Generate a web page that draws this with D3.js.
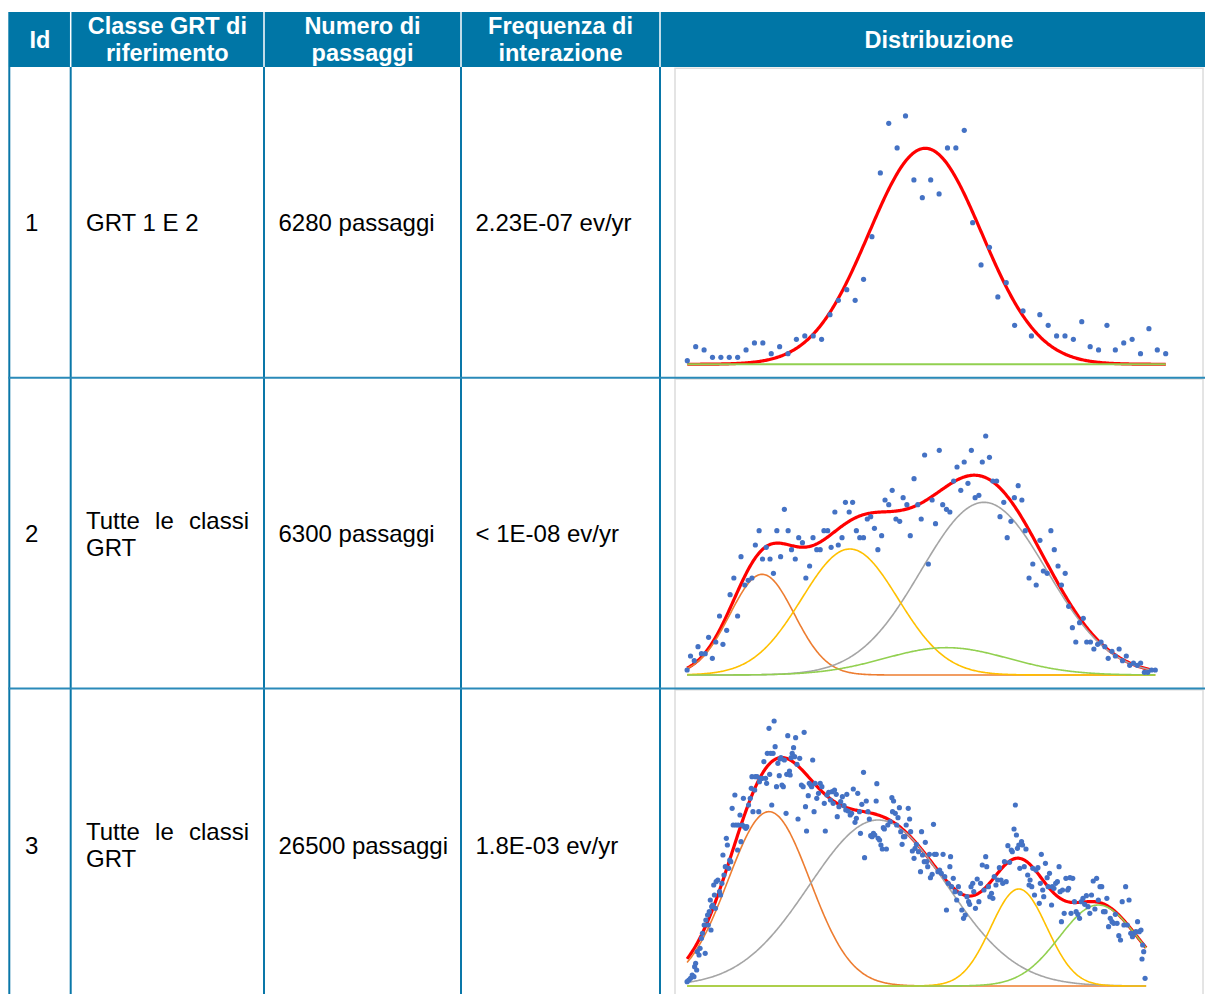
<!DOCTYPE html>
<html><head><meta charset="utf-8">
<script src="https://cdn.jsdelivr.net/npm/d3@7"></script>
<style>
html,body{margin:0;padding:0;background:#fff;}
svg text{font-family:"Liberation Sans",Arial,Helvetica,sans-serif;}
</style>
</head><body>
<svg id="c" width="1205" height="994"></svg>
<script>
// ---------------- DATA ----------------
const headerLabels = [["Id"], ["Classe GRT di", "riferimento"], ["Numero di", "passaggi"], ["Frequenza di", "interazione"], ["Distribuzione"]];
const ids = ["1", "2", "3"];
const classLines = [["GRT 1 E 2"], ["Tutte le classi", "GRT"], ["Tutte le classi", "GRT"]];
const passages = [6280, 6300, 26500];
const frequencies = ["2.23E-07 ev/yr", "< 1E-08 ev/yr", "1.8E-03 ev/yr"];

// Chart 1: one value per bin (bin index 0..57)
const chart1Values = [11,53,43,21,21,21,21,43,64,64,32,53,32,75,85,85,75,149,192,224,192,255,383,574,723,649,745,553,500,553,511,649,649,702,425,298,351,202,245,117,160,85,149,117,85,85,75,128,53,43,117,43,64,75,32,107,43,32];
const chart1FitMean = [28.36], chart1FitSigma = [6.73], chart1FitAmp = [648];

// Chart 2: [x, frequency]
const chart2Points = [[5.0,15],[6.0,57],[7.1,43],[8.2,85],[9.2,64],[10.3,64],[11.3,113],[12.4,50],[13.4,99],[14.5,177],[15.5,92],[16.6,134],[17.6,241],[18.7,291],[19.8,177],[20.8,355],[21.9,270],[22.9,284],[24.0,291],[25.0,390],[26.1,433],[27.1,348],[28.2,383],[29.3,348],[30.3,305],[31.3,433],[32.4,355],[33.5,497],[34.6,433],[35.6,376],[36.7,348],[37.7,412],[38.8,397],[39.8,291],[40.9,327],[41.9,412],[43.0,376],[44.0,376],[45.1,433],[46.2,433],[47.2,383],[48.3,489],[49.3,390],[50.4,412],[51.4,518],[52.5,489],[53.5,518],[54.6,433],[55.6,412],[56.7,412],[57.8,468],[58.8,475],[59.9,440],[60.9,376],[62.0,418],[63.0,525],[64.1,511],[65.1,554],[66.2,468],[67.3,461],[68.3,532],[69.4,511],[70.4,418],[71.5,589],[72.6,511],[73.6,468],[74.6,660],[75.7,333],[76.8,525],[77.8,454],[78.9,674],[79.9,511],[81.0,497],[82.0,489],[83.1,582],[84.1,624],[85.2,554],[86.2,639],[87.3,575],[88.3,674],[89.4,532],[90.5,539],[91.5,639],[92.5,717],[93.6,653],[94.6,582],[95.7,582],[96.7,475],[97.8,518],[98.8,412],[99.9,461],[100.9,532],[102.0,568],[103.1,525],[104.1,433],[105.2,291],[106.3,333],[107.3,270],[108.4,404],[109.4,312],[110.5,305],[111.6,433],[112.6,376],[113.7,327],[114.7,270],[115.8,305],[116.8,206],[117.9,142],[118.9,99],[120.0,157],[121.1,170],[122.1,99],[123.2,99],[124.2,78],[125.3,92],[126.3,99],[127.4,85],[128.4,50],[129.5,71],[130.5,57],[131.6,78],[132.6,43],[133.7,57],[134.7,29],[135.8,36],[136.9,29],[137.9,36],[139.0,8],[140.0,8],[141.1,15],[142.2,15]];
const chart2Means  = [27.0, 92.0, 52.7, 81.0];
const chart2Sigmas = [9.4, 18.4, 14.1, 18.2];
const chart2Amps   = [302, 518, 378, 82];

// Chart 3: [x, frequency]
const chart3Points = [[5.0,13],[5.5,18],[6.0,23],[6.5,33],[7.0,28],[7.2,58],[7.5,68],[7.8,48],[8.0,103],[8.5,93],[8.8,113],[9.2,143],[9.5,158],[10.0,183],[10.3,98],[10.5,198],[11.0,213],[11.2,183],[11.5,223],[11.8,258],[12.0,168],[12.2,238],[12.5,243],[12.8,303],[13.0,273],[13.3,233],[13.5,313],[14.0,318],[14.5,283],[14.8,273],[15.2,308],[15.5,393],[15.8,333],[16.2,358],[16.5,443],[16.8,423],[17.2,353],[17.5,378],[17.8,373],[18.2,533],[18.5,483],[19.0,573],[19.3,483],[19.8,408],[20.0,483],[20.5,513],[20.8,433],[21.2,483],[21.5,563],[21.8,478],[22.2,473],[22.5,478],[23.0,543],[23.5,563],[23.8,593],[24.0,628],[24.3,523],[24.8,588],[25.0,628],[25.5,628],[26.0,523],[26.2,613],[26.5,623],[27.0,623],[27.5,673],[28.0,623],[28.3,608],[28.5,698],[29.0,773],[29.2,635],[29.5,698],[29.8,543],[30.2,698],[30.5,795],[30.8,718],[31.2,598],[31.6,668],[32.0,631],[32.2,681],[32.5,685],[32.8,603],[33.2,598],[33.5,678],[34.0,518],[34.2,635],[34.5,751],[35.0,645],[35.2,633],[35.5,685],[35.8,698],[36.2,715],[36.5,688],[36.8,745],[37.2,665],[37.5,501],[38.0,683],[38.5,603],[39.0,598],[39.3,761],[39.7,538],[40.0,465],[40.5,571],[40.8,608],[41.2,603],[41.5,598],[41.8,678],[42.2,523],[42.5,608],[43.0,563],[43.5,578],[44.0,608],[44.5,598],[45.2,548],[45.5,465],[46.0,573],[46.5,581],[47.0,558],[47.5,583],[47.8,548],[48.2,588],[48.7,575],[49.0,508],[49.5,538],[50.0,553],[50.5,568],[51.0,541],[51.5,528],[51.8,575],[52.2,525],[52.8,513],[53.2,518],[53.7,591],[54.2,491],[54.6,503],[55.0,578],[55.5,523],[55.8,458],[56.2,545],[56.7,641],[57.0,385],[57.5,555],[58.0,523],[58.4,501],[58.8,451],[59.2,448],[59.6,458],[60.0,453],[60.4,555],[60.6,607],[61.0,443],[61.4,438],[61.8,423],[62.2,411],[62.5,475],[62.8,471],[63.4,411],[63.8,483],[64.5,493],[65.0,565],[65.2,523],[65.5,555],[66.0,518],[66.4,483],[66.8,505],[67.2,535],[67.6,463],[68.0,425],[68.4,448],[68.8,448],[69.2,483],[69.8,533],[70.2,501],[70.5,463],[71.0,405],[71.5,383],[71.8,413],[72.2,425],[72.8,403],[73.4,343],[73.7,463],[74.0,393],[74.5,373],[74.8,431],[75.2,373],[75.5,358],[76.0,395],[76.3,325],[76.8,335],[77.2,485],[77.5,395],[78.0,395],[78.5,343],[79.0,348],[79.5,338],[80.0,395],[80.5,328],[81.0,228],[81.5,308],[82.0,358],[82.2,388],[82.5,298],[83.0,323],[83.5,283],[84.0,258],[84.5,298],[85.0,278],[85.5,228],[86.0,203],[86.5,213],[87.0,268],[87.5,253],[87.8,245],[88.2,298],[88.7,308],[89.0,283],[89.5,233],[90.0,321],[90.5,253],[91.0,308],[91.5,363],[92.0,288],[92.5,388],[92.8,358],[93.3,298],[93.7,268],[94.2,278],[94.6,263],[95.0,328],[95.5,303],[96.0,318],[96.5,355],[97.0,318],[97.5,308],[98.0,373],[98.5,313],[99.0,421],[99.5,371],[100.0,408],[100.3,403],[100.8,471],[101.2,543],[101.5,453],[101.8,413],[102.2,423],[102.5,353],[103.0,433],[103.3,423],[103.8,358],[104.3,411],[104.8,333],[105.2,303],[105.5,318],[106.0,298],[106.3,353],[106.8,273],[107.2,348],[107.8,355],[108.2,248],[108.5,308],[108.8,395],[109.2,288],[109.5,268],[110.0,368],[110.5,325],[110.8,298],[111.2,338],[111.8,243],[112.0,298],[112.5,293],[113.0,308],[113.5,313],[114.0,358],[114.3,283],[114.7,193],[115.0,288],[115.5,218],[116.0,323],[116.5,288],[116.8,293],[117.2,325],[117.5,218],[118.0,323],[118.5,253],[119.0,223],[119.5,215],[120.0,203],[120.5,253],[121.0,263],[121.5,245],[122.0,271],[122.5,238],[123.0,218],[123.5,273],[124.0,315],[124.5,231],[125.0,323],[125.5,258],[126.0,298],[126.5,298],[127.0,223],[127.5,223],[128.0,263],[128.5,178],[129.0,203],[129.5,193],[130.0,188],[130.5,215],[131.0,188],[131.5,151],[132.0,138],[132.5,253],[133.0,183],[133.5,298],[134.0,183],[134.5,258],[135.0,158],[135.5,148],[136.0,158],[136.5,163],[137.0,193],[137.5,163],[138.0,168],[138.3,81],[138.5,123],[138.8,103],[139.2,23]];
const chart3Means  = [29.0, 61.0, 102.2, 125.5];
const chart3Sigmas = [12.0, 20.2, 8.2, 11.4];
const chart3Amps   = [523, 498, 291, 243];

const componentColors = ["#ED7D31", "#A5A5A5", "#FFC000", "#92D050"];

// ---------------- LAYOUT ----------------
const svg = d3.select("#c");
const BLUE = "#0076a6";
const colX = [9.3, 70.7, 264, 461, 660, 1218];
const headTop = 12, headBot = 67;
const rowY = [67, 377.7, 688.5, 1001];

// header
svg.append("rect").attr("x", colX[0] - 1).attr("y", headTop).attr("width", 1205 - colX[0] + 1).attr("height", headBot - headTop).attr("fill", BLUE);
headerLabels.forEach((lines, i) => {
  const cx = (colX[i] + colX[i + 1]) / 2;
  const t = svg.append("text").attr("x", cx).attr("text-anchor", "middle")
    .attr("fill", "#fff").attr("font-weight", "bold").attr("font-size", 23.5);
  if (lines.length === 1) {
    t.attr("y", 47.8).text(lines[0]);
  } else {
    lines.forEach((l, k) => t.append("tspan").attr("x", cx).attr("y", k === 0 ? 33.5 : 60.5).text(l));
  }
});
// white separators in header
colX.slice(1, 5).forEach(x => {
  svg.append("line").attr("x1", x).attr("x2", x).attr("y1", headTop).attr("y2", headBot).attr("stroke", "#fff").attr("stroke-width", 1.5);
});

// chart boxes
for (let r = 0; r < 3; r++) {
  svg.append("rect").attr("x", 675).attr("y", rowY[r] + 1.3).attr("width", 528).attr("height", rowY[r + 1] - rowY[r] - 1.3)
    .attr("fill", "none").attr("stroke", "#dcdcdc").attr("stroke-width", 1.5);
}

// grid lines
colX.slice(0, 5).forEach(x => {
  svg.append("line").attr("x1", x).attr("x2", x).attr("y1", headBot).attr("y2", 994).attr("stroke", "#0a77a8").attr("stroke-width", 2);
});
rowY.slice(1, 3).forEach(y => {
  svg.append("line").attr("x1", colX[0] - 1).attr("x2", 1205).attr("y1", y).attr("y2", y).attr("stroke", "#2a8ab9").attr("stroke-width", 2);
});

// body text
const FS = 24;
for (let r = 0; r < 3; r++) {
  const mid = (rowY[r] + rowY[r + 1]) / 2;
  const base = mid + 9;
  svg.append("text").attr("x", 25).attr("y", base).attr("font-size", FS).attr("fill", "#000").text(ids[r]);
  svg.append("text").attr("x", 278.5).attr("y", base).attr("font-size", FS).attr("fill", "#000").text(passages[r] + " passaggi");
  svg.append("text").attr("x", 475.5).attr("y", base).attr("font-size", FS).attr("fill", "#000").text(frequencies[r]);
  const lines = classLines[r];
  const left = 86, right = 249;
  lines.forEach((l, k) => {
    const yb = lines.length === 1 ? base : base + (k === 0 ? -13.5 : 13.5);
    const justify = lines.length > 1 && k < lines.length - 1;
    if (!justify) {
      svg.append("text").attr("x", left).attr("y", yb).attr("font-size", FS).text(l);
    } else {
      const words = l.split(" ");
      const nodes = words.map(w => svg.append("text").attr("y", yb).attr("font-size", FS).text(w));
      const widths = nodes.map(n => n.node().getComputedTextLength());
      const gap = (right - left - d3.sum(widths)) / (words.length - 1);
      let x = left;
      nodes.forEach((n, j) => { n.attr("x", x); x += widths[j] + gap; });
    }
  });
}

// ---------------- CHARTS ----------------
const gauss = (x, mu, s, a) => a * Math.exp(-((x - mu) * (x - mu)) / (2 * s * s));

function drawChart(opt) {
  const x = d3.scaleLinear().domain(opt.xDomain).range(opt.xRange);
  const y = d3.scaleLinear().domain([0, 900]).range([opt.base, opt.base - 300]);
  const g = svg.append("g");
  const n = 500;
  const xs = d3.range(n + 1).map(i => opt.xDomain[0] + (opt.xDomain[1] - opt.xDomain[0]) * i / n);
  const line = d3.line().x(d => x(d[0])).y(d => y(d[1])).curve(d3.curveLinear);
  const total = xs.map(v => [v, d3.sum(opt.means, (m, i) => gauss(v, m, opt.sigmas[i], opt.amps[i]))]);
  g.append("path").attr("d", line(total)).attr("fill", "none").attr("stroke", "#FF0000").attr("stroke-width", 3.2).attr("stroke-linejoin", "round");
  (opt.components || []).forEach(ci => {
    const comp = xs.map(v => [v, gauss(v, opt.means[ci], opt.sigmas[ci], opt.amps[ci])]);
    g.append("path").attr("d", line(comp)).attr("fill", "none").attr("stroke", opt.colors[ci]).attr("stroke-width", 1.6);
  });
  if (opt.zeroLine) {
    g.append("path").attr("d", line([[opt.xDomain[0], 0], [opt.xDomain[1], 0]])).attr("fill", "none").attr("stroke", "#92D050").attr("stroke-width", 2);
  }
  g.selectAll("circle").data(opt.points).join("circle")
    .attr("cx", d => x(d[0])).attr("cy", d => y(d[1])).attr("r", 2.6).attr("fill", "#4472C4");
}

drawChart({
  xDomain: [0, chart1Values.length - 1], xRange: [687.3, 1165.7], base: 364.3,
  points: chart1Values.map((v, i) => [i, v]),
  means: chart1FitMean, sigmas: chart1FitSigma, amps: chart1FitAmp,
  components: [], zeroLine: true
});
drawChart({
  xDomain: [5.0, 142.2], xRange: [687.1, 1155.3], base: 675,
  points: chart2Points,
  means: chart2Means, sigmas: chart2Sigmas, amps: chart2Amps,
  colors: componentColors, components: [0, 1, 2, 3]
});
drawChart({
  xDomain: [5.0, 139.5], xRange: [687.1, 1146.1], base: 986,
  points: chart3Points,
  means: chart3Means, sigmas: chart3Sigmas, amps: chart3Amps,
  colors: componentColors, components: [0, 1, 2, 3]
});
</script>
</body></html>
